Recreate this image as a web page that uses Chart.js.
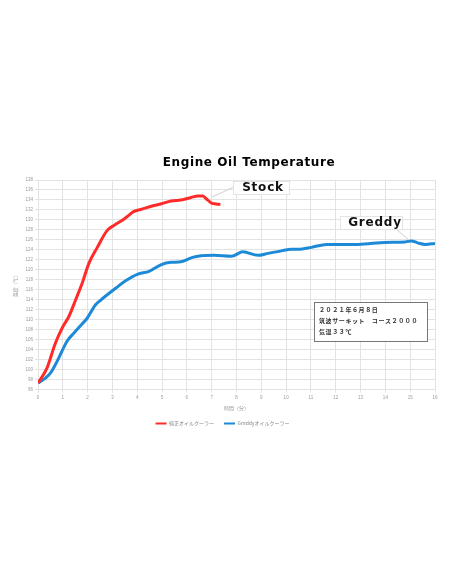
<!DOCTYPE html>
<html>
<head>
<meta charset="utf-8">
<script src="https://cdn.jsdelivr.net/npm/chart.js@4.4.1/dist/chart.umd.min.js"></script>
<style>
  html, body { margin: 0; padding: 0; background: #fff; }
  #wrap { width: 452px; height: 584px; }
</style>
</head>
<body>
<div id="wrap"><canvas id="chart" width="452" height="584"></canvas></div>
<script>
// Oil temperature vs time (minutes)
var stockTimes = [0, 0.36, 0.7, 1.0, 1.24, 1.51, 1.78, 2.05, 2.39, 2.79, 3.06, 3.47, 3.87, 4.14, 4.68, 4.95, 5.36, 5.76, 6.17, 6.44, 6.64, 6.77, 6.98, 7.18, 7.35];
var stockTemps = [97.3, 100.3, 105.3, 108.6, 110.6, 113.9, 117.3, 121.3, 124.5, 127.9, 128.9, 130.2, 131.7, 132.1, 132.9, 133.2, 133.8, 134.0, 134.5, 134.8, 134.8, 134.3, 133.4, 133.2, 133.1];

var greddyTimes = [0, 0.3, 0.5, 0.7, 0.9, 1.17, 1.44, 1.71, 1.98, 2.32, 2.52, 2.79, 3.13, 3.53, 4.0, 4.48, 4.95, 5.36, 5.76, 6.23, 6.57, 7.1, 7.79, 8.26, 8.87, 9.27, 9.81, 10.21, 10.49, 11.02, 11.63, 12.91, 13.99, 14.8, 15.05, 15.3, 15.61, 16.0];
var greddyTemps = [97.3, 98.3, 99.3, 101.0, 103.0, 105.7, 107.3, 108.8, 110.3, 113.0, 113.9, 115.0, 116.3, 117.8, 119.1, 119.7, 121.0, 121.5, 121.6, 122.5, 122.8, 122.9, 122.7, 123.6, 122.9, 123.3, 123.8, 124.1, 124.1, 124.5, 125.1, 125.1, 125.5, 125.6, 125.8, 125.4, 125.1, 125.3];

var seriesNames = ['純正オイルクーラー', 'Greddyオイルクーラー'];
var chartTitle = 'Engine Oil Temperature';
var xTitle = '時間（分）';
var yTitle = '温度（℃）';
var noteLines = ['２０２１年６月８日', '筑波サーキット　コース２０００', '気温３３℃'];
var calloutLabels = ['Stock', 'Greddy'];

function toPoints(xs, ys) {
    return xs.map(function(x, i) { return { x: x, y: ys[i] }; });
}

// Title, callouts and the note box drawn on top of the plot
var overlayPlugin = {
    id: 'overlay',
    afterDraw: function(chart) {
        var ctx = chart.ctx;
        ctx.save();

        ctx.fillStyle = '#000';
        ctx.textAlign = 'center';
        ctx.textBaseline = 'middle';
        ctx.font = 'bold 12px "DejaVu Sans"';
        ctx.letterSpacing = '0.6px';
        ctx.fillText(chartTitle, 249, 163);

        // callout leader lines
        ctx.strokeStyle = '#cfcfcf';
        ctx.lineWidth = 1;
        ctx.beginPath();
        ctx.moveTo(212, 197); ctx.lineTo(234, 187);
        ctx.moveTo(396, 229); ctx.lineTo(409, 240);
        ctx.stroke();

        // callout boxes
        ctx.fillStyle = '#fff';
        ctx.strokeStyle = '#e4e4e4';
        ctx.fillRect(233, 181, 56, 13);
        ctx.strokeRect(233.5, 181.5, 56, 13);
        ctx.fillRect(340, 216, 62, 13);
        ctx.strokeRect(340.5, 216.5, 62, 13);

        ctx.fillStyle = '#111';
        ctx.font = 'bold 12px "DejaVu Sans"';
        ctx.letterSpacing = '0.8px';
        ctx.fillText(calloutLabels[0], 263, 188);
        ctx.fillText(calloutLabels[1], 375, 223);

        // note box
        ctx.fillStyle = '#fff';
        ctx.fillRect(314, 302, 113, 39);
        ctx.strokeStyle = '#777';
        ctx.strokeRect(314.5, 302.5, 113, 39);
        ctx.fillStyle = '#333';
        ctx.textAlign = 'left';
        ctx.font = 'bold 6px "Noto Sans CJK JP"';
        ctx.letterSpacing = '0.6px';
        noteLines.forEach(function(line, i) {
            ctx.fillText(line, 319, 310 + i * 11);
        });
        ctx.restore();
    }
};

var gridColor = '#e3e3e3';
var tickColor = '#9a9a9a';

new Chart(document.getElementById('chart'), {
    type: 'line',
    data: {
        datasets: [{
            label: seriesNames[0],
            data: toPoints(stockTimes, stockTemps),
            borderColor: '#ff2b2b',
            backgroundColor: '#ff2b2b',
            borderWidth: 3,
            pointRadius: 0,
            cubicInterpolationMode: 'monotone'
        }, {
            label: seriesNames[1],
            data: toPoints(greddyTimes, greddyTemps),
            borderColor: '#1d8ad8',
            backgroundColor: '#1d8ad8',
            borderWidth: 3,
            pointRadius: 0,
            cubicInterpolationMode: 'monotone'
        }]
    },
    options: {
        responsive: false,
        animation: false,
        layout: { padding: { left: 10, right: 17, top: 180, bottom: 148 } },
        plugins: {
            title: { display: false },
            tooltip: { enabled: false },
            legend: {
                position: 'bottom',
                labels: {
                    color: '#8a8a8a',
                    font: { size: 5, family: '"Noto Sans CJK JP"' },
                    boxWidth: 11,
                    boxHeight: 2,
                    padding: 10,
                    generateLabels: function(chart) {
                        var items = Chart.defaults.plugins.legend.labels.generateLabels(chart);
                        items.forEach(function(it) { it.lineWidth = 0; });
                        return items;
                    }
                }
            }
        },
        scales: {
            x: {
                type: 'linear',
                min: 0,
                max: 16,
                grid: { color: gridColor, tickLength: 3 },
                border: { color: gridColor },
                ticks: { stepSize: 1, color: tickColor, font: { size: 4.5 }, padding: 2, maxRotation: 0 },
                title: { display: true, text: xTitle, color: tickColor, font: { size: 5, family: '"Noto Sans CJK JP"' }, padding: { top: 3, bottom: 0 } }
            },
            y: {
                min: 96,
                max: 138,
                grid: { color: gridColor, tickLength: 3 },
                border: { color: gridColor },
                ticks: { stepSize: 2, color: tickColor, font: { size: 4.5 }, padding: 2 },
                title: { display: true, text: yTitle, color: tickColor, font: { size: 5, family: '"Noto Sans CJK JP"' }, padding: 2 },
                afterFit: function(scale) { scale.width = 28; }
            }
        }
    },
    plugins: [overlayPlugin]
});
</script>
</body>
</html>
